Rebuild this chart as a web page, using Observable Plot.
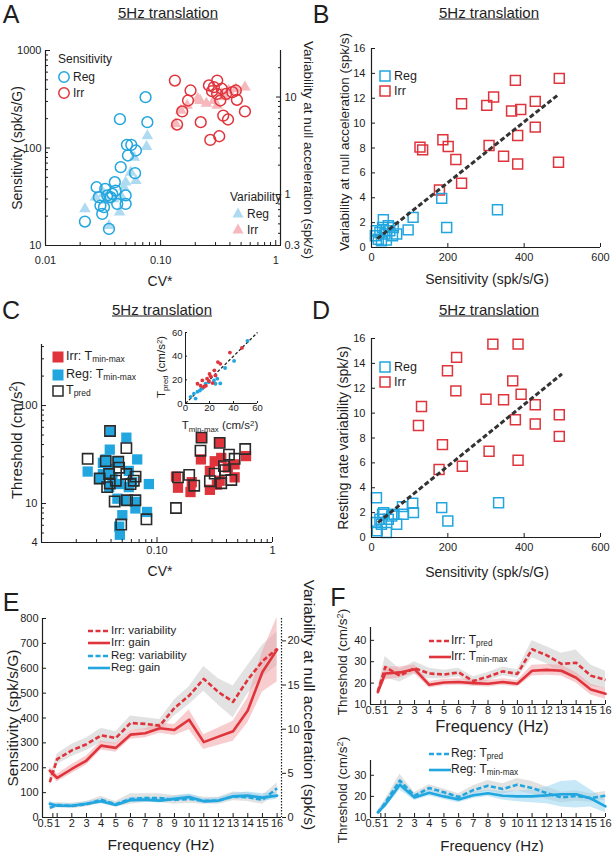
<!DOCTYPE html>
<html><head><meta charset="utf-8">
<script src="https://cdn.jsdelivr.net/npm/d3@7"></script>
<script src="https://cdn.jsdelivr.net/npm/@observablehq/plot@0.6"></script>
<style>
body{margin:0;background:#fff;}
#root{position:relative;width:612px;height:852px;overflow:hidden;font-family:"Liberation Sans",Arial,sans-serif;color:#1e1e1e;}
#root > svg{position:absolute;overflow:visible;}
.t{position:absolute;white-space:nowrap;line-height:1;}
.t svg{display:block;overflow:visible;}
sub{font-size:0.68em;vertical-align:-0.3em;line-height:0;}
sup{font-size:0.68em;vertical-align:0.45em;line-height:0;}
</style></head><body><div id="root"></div>
<script>
// ---------------- DATA ----------------
// Panel A: [CV*, sensitivity spk/s/G] and [CV*, variability spk/s]
const A_regSens = [[0.022,17.6],[0.0356,14.8],[0.0311,21.1],[0.0322,24.7],[0.0278,39.6],[0.0291,31.3],[0.0344,32.6],[0.0406,36.6],[0.040,44.6],[0.042,26.7],[0.0497,32.6],[0.0497,26.7],[0.045,63.6],[0.052,83.8],[0.051,107.7],[0.0556,107.7],[0.061,94.3],[0.060,55.2],[0.0443,197.6],[0.074,332],[0.0767,184],[0.0368,31.3],[0.033,38],[0.038,33.8],[0.030,25.7]];
const A_irrSens = [[0.133,492],[0.182,389],[0.173,307],[0.154,237],[0.139,174],[0.223,184],[0.263,438],[0.31,492],[0.28,383],[0.34,405],[0.33,307],[0.37,359],[0.42,374],[0.45,389],[0.46,312],[0.54,237],[0.35,215],[0.385,196],[0.27,121],[0.323,132],[0.31,359],[0.29,421]];
const A_regVar = [[0.022,0.71],[0.0272,0.94],[0.0356,0.48],[0.044,0.66],[0.0497,1.34],[0.059,2.4],[0.061,1.39],[0.0767,4.0],[0.0755,3.1],[0.039,0.9],[0.046,0.94],[0.034,0.87],[0.055,1.69],[0.032,1.02],[0.048,1.19]];
const A_irrVar = [[0.135,5.3],[0.15,7.3],[0.22,9.2],[0.25,8.6],[0.29,9.2],[0.34,10.8],[0.39,11.7],[0.45,12.1],[0.54,12.6],[0.17,8.2],[0.31,8.2],[0.36,10.0],[0.21,9.6]];
const A_xDomain = [0.01, 1.1], A_yDomain = [10, 1000], A_rightFactor = 1000/30;
const A_xTicks = [0.01, 0.1, 1], A_yTicks = [10, 100, 1000], A_rTicks = [0.3, 1, 10];
const A_xMinor = [0.02,0.03,0.04,0.05,0.06,0.07,0.08,0.09,0.2,0.3,0.4,0.5,0.6,0.7,0.8,0.9];
const A_yMinor = [20,30,40,50,60,70,80,90,200,300,400,500,600,700,800,900];
const A_rMinor = [0.4,0.5,0.6,0.7,0.8,0.9,2,3,4,5,6,7,8,9,20];

// Panel B: [sensitivity, variability at null acceleration]
const B_reg = [[184,3.95],[330,3.04],[197,1.61],[109,2.42],[96,1.42],[31,2.23],[66,1.08],[13,1.34],[18,0.67],[39,0.59],[48,1.34],[29,1.61],[55,0.94],[10,0.94],[35,1.08],[44,1.75],[57,1.61],[22,1.21],[26,0.54]];
const B_irr = [[127,8.07],[134,7.85],[187,8.66],[201,8.12],[221,7.07],[236,11.56],[236,5.16],[178,4.62],[302,11.43],[320,12.1],[308,8.2],[346,7.34],[367,10.97],[391,11.1],[377,13.44],[383,9.0],[383,6.72],[429,11.75],[429,9.68],[490,6.86],[492,13.6]];
const B_fit = [[15,0.7],[490,12.3]];

// Panel C: [CV*, threshold cm/s^2]
const C_regTmm = [[0.0398,54],[0.0543,47],[0.039,35.5],[0.0674,28.2],[0.0251,21.2],[0.036,28.2],[0.0454,27],[0.038,22.4],[0.0316,17.8],[0.0411,18.5],[0.057,21.5],[0.047,15.8],[0.0385,14.7],[0.061,16.5],[0.085,15.8],[0.0454,11.2],[0.0518,10.8],[0.065,10.4],[0.065,8.9],[0.0501,7.6],[0.082,8.2],[0.047,5.8],[0.0477,4.8],[0.034,26],[0.034,20],[0.057,14.7]];
const C_regTpred = [[0.0251,28.6],[0.0319,18],[0.036,27.1],[0.039,16],[0.0392,55],[0.0462,26.7],[0.0543,36.8],[0.0543,20],[0.0652,18.8],[0.059,15.8],[0.044,17.1],[0.055,10.8],[0.043,10.5],[0.065,10.8],[0.049,6.1],[0.081,6.9],[0.0385,20],[0.047,23.2],[0.037,14.7],[0.063,17.1]];
const C_irrTmm = [[0.243,47],[0.349,42],[0.24,28.2],[0.146,18.8],[0.152,14.5],[0.2,16.5],[0.195,13.1],[0.287,13.8],[0.349,17.1],[0.36,29.2],[0.47,25.1],[0.59,30.5],[0.47,18.5],[0.316,27],[0.41,23.3],[0.287,21.5],[0.33,15.6]];
const C_irrTpred = [[0.238,34.6],[0.19,19.6],[0.146,9.0],[0.287,16.9],[0.42,31.6],[0.58,36],[0.38,24.1],[0.39,21.9],[0.47,28.6],[0.36,16.1],[0.152,18.5],[0.21,15.2],[0.316,20.2],[0.44,17.4],[0.349,41.6],[0.243,47]];
const C_xDomain = [0.01, 1], C_yDomain = [4, 420];
const C_xTicks = [0.1, 1], C_yTicks = [4, 10, 100];
const C_xMinor = [0.02,0.03,0.04,0.05,0.06,0.07,0.08,0.09,0.2,0.3,0.4,0.5,0.6,0.7,0.8,0.9];
const C_yMinor = [5,6,7,8,9,20,30,40,50,60,70,80,90,200,300,400];
// inset: [T min-max, T pred]
const C_insetIrr = [[10,16.7],[14,19.5],[18,21],[21,23],[24,28],[17,15],[12.6,15],[19.5,19],[29,33.5],[25,23.7],[15.3,14],[22.6,17.3],[37,43],[47,47],[27,35],[20,25]];
const C_insetReg = [[4.2,5.6],[7,8.4],[12,11],[14,12.6],[23.7,19.5],[26.5,21],[40.5,36],[51.6,53],[16.7,16.7],[19.5,18],[25,16.7],[29,17],[8.4,4.2],[10,10],[33,30]];
const C_insetUnity = [[0,0],[60,60]];
const C_insetTicks = [0, 20, 40, 60];

// Panel D: [sensitivity, resting rate variability]
const D_reg = [[13,3.2],[333,2.8],[184,2.4],[200,1.33],[108,2.75],[110,2.0],[81,2.48],[83,1.87],[66,1.07],[32,2.0],[22,1.47],[44,1.47],[13,1.2],[15,0.53],[39,0.4],[29,1.87],[53,1.73],[26,1.07],[59,1.87]];
const D_irr = [[318,15.55],[384,15.55],[223,14.48],[199,13.41],[221,11.79],[131,10.53],[123,9.01],[370,12.59],[392,11.52],[300,11.12],[346,11.07],[377,9.47],[429,10.67],[429,9.12],[492,9.87],[492,8.13],[186,7.47],[177,5.47],[238,5.73],[308,6.93],[384,6.21]];
const D_fit = [[17,1.2],[499,13.15]];
const BD_xTicks = [0, 200, 400, 600], BD_yTicks = [0,2,4,6,8,10,12,14,16];

// Panel E: frequency sweep
const E_freq = [0.5,1,2,3,4,5,6,7,8,9,10,11,12,13,14,15,16];
const E_irrGain   = [188,159,195,229,289,280,333,339,359,352,393,303,325,347,430,585,675];
const E_irrGainSE = [15,15,18,18,18,18,18,18,20,22,40,30,35,40,50,80,130];
const E_irrVar    = [4.0,6.6,7.6,8.3,9.3,9.0,10.7,10.6,10.4,12.4,13.8,15.7,14.2,13.1,15.6,17.7,19.1];
const E_irrVarSE  = [0.5,0.6,0.7,0.7,0.8,0.7,0.8,0.7,0.7,0.9,1.0,1.4,1.5,1.8,1.6,1.8,1.9];
const E_regGain   = [55,47,47,55,65,50,70,72,68,75,82,65,68,85,88,80,88];
const E_regGainSE = [10,8,8,8,10,8,10,10,10,10,12,10,10,12,15,15,15];
const E_regVar    = [1.1,1.4,1.3,1.5,2.0,1.5,2.1,2.2,2.2,2.0,2.1,1.9,1.9,2.4,2.3,2.0,3.3];
const E_regVarSE  = [0.3,0.3,0.3,0.3,0.4,0.3,0.6,0.5,0.5,0.5,0.5,0.4,0.4,0.5,0.5,0.5,0.6];
const E_xDomain = [0, 16.3], E_yDomain = [0, 800], E_rightFactor = 35.5;
const E_yTicks = [0,100,200,300,400,500,600,700,800], E_rTicks = [0,5,10,15,20];
const freqTicks = [1,2,3,4,5,6,7,8,9,10,11,12,13,14,15,16], freqFirst = [0.5];

// Panel F: thresholds vs frequency
const F_irrTmm     = [15.8,24.5,25,26.5,19.2,20.3,20.5,20,19.7,20.5,19.7,25.8,26.2,25.8,22.5,17,15];
const F_irrTmmSE   = [1.5,3,2.5,2,1.5,1.5,1.5,1.5,1.5,1.5,1.5,2.5,2.5,2.5,2.5,2.5,2.5];
const F_irrTpred   = [16,27.5,23.5,27,24.5,24,25,21,23,25.5,24.3,35.8,33,29,29.5,23.5,21.5];
const F_irrTpredSE = [1.5,5,3,3,2.5,2,2,2,2,2,2,4,4,5,6,5,4];
const F_regTmm     = [12.5,16,25.5,19.5,21.7,20,18.5,20.5,21.5,20.3,20,20,20.5,21,21,19,15.3];
const F_regTmmSE   = [1,1.5,2.5,1.5,1.5,1.5,1.5,1.5,1.5,2,2.5,3,4,6,6.5,4,3];
const F_regTpred   = [12,17,27.5,20.3,24,22,19.7,23,25,23.5,25.5,24,21.5,19.5,20.2,19.2,20.3];
const F_regTpredSE = [1,1.5,3,1.5,1.5,1.5,1.5,2,2.5,2.5,3,3,3,2.5,2.5,2,2];
const F_xDomain = [0, 16], F_upDomain = [10, 46], F_loDomain = [10, 37];
const F_upTicks = [10,20,30,40], F_loTicks = [10,20,30];

// ---------------- STYLE ----------------
const red = "#e0343c", blue = "#22a6df", ltBlue = "#aedbf1", pink = "#f6b8bc", ink = "#1e1e1e";
const FONT = "Liberation Sans, Arial, Helvetica, sans-serif";
const sty = {fontFamily: FONT, fontSize: "11px", color: ink, background: "transparent", overflow: "visible"};
const root = document.getElementById("root");
const X = d => d[0], Y = d => d[1];

function mount(svg, left, top){ svg.style.left = left + "px"; svg.style.top = top + "px"; root.appendChild(svg); }
function T(html, x, y, o = {}){
  const d = document.createElement("div"); d.className = "t"; d.innerHTML = html;
  const ax = o.anchor === "start" ? "0" : o.anchor === "end" ? "-100%" : "-50%";
  d.style.left = x + "px"; d.style.top = y + "px"; d.style.fontSize = (o.size || 14) + "px";
  if (o.deco) d.style.textDecoration = o.deco;
  d.style.transform = `translate(${ax},-50%)` + (o.rot ? ` rotate(${o.rot}deg)` : "");
  root.appendChild(d);
}
function sw(inner, cx, cy, w, h){
  const d = document.createElement("div"); d.className = "t";
  d.style.left = (cx - w/2) + "px"; d.style.top = (cy - h/2) + "px";
  d.innerHTML = `<svg width="${w}" height="${h}">${inner}</svg>`;
  root.appendChild(d);
}
const circ = c => `<circle cx="6" cy="6" r="5.2" fill="none" stroke="${c}" stroke-width="1.5"/>`;
const tri = c => `<path d="M6,0.5 L11.5,10.5 L0.5,10.5Z" fill="${c}"/>`;
const sqOpen = c => `<rect x="1" y="1" width="10" height="10" fill="none" stroke="${c}" stroke-width="1.5"/>`;
const sqFill = c => `<rect x="0.5" y="0.5" width="11" height="11" fill="${c}"/>`;
const lineSw = (c, dash) => `<line x1="0" y1="3" x2="22" y2="3" stroke="${c}" stroke-width="2.6" ${dash ? 'stroke-dasharray="5,2.5"' : ''}/>`;

function majY(ticks, fmt, size, pad, extra = {}){ return Plot.axisY({ticks, tickFormat: fmt, tickSize: size, tickPadding: pad, label: null, stroke: ink, fill: ink, ...extra}); }
function majX(ticks, fmt, size, pad, extra = {}){ return Plot.axisX({ticks, tickFormat: fmt, tickSize: size, tickPadding: pad, label: null, stroke: ink, fill: ink, ...extra}); }
function minY(ticks, size, extra = {}){ return Plot.axisY({ticks, tickSize: size, fill: "none", label: null, stroke: ink, ...extra}); }
function minX(ticks, size, extra = {}){ return Plot.axisX({ticks, tickSize: size, fill: "none", label: null, stroke: ink, ...extra}); }
const dashed = {strokeDasharray: "5,2.5", strokeLinecap: "butt"};

// ---------------- PANEL A ----------------
mount(Plot.plot({
  width: 306, height: 270, marginLeft: 45, marginRight: 26, marginTop: 20, marginBottom: 55, style: sty,
  x: {type: "log", domain: A_xDomain}, y: {type: "log", domain: A_yDomain},
  marks: [
    Plot.dot(A_regVar, {x: X, y: d => d[1] * A_rightFactor, symbol: "triangle", r: 4.3, fill: ltBlue}),
    Plot.dot(A_irrVar, {x: X, y: d => d[1] * A_rightFactor, symbol: "triangle", r: 4.3, fill: pink}),
    Plot.dot(A_regSens, {x: X, y: Y, r: 5.4, stroke: blue, strokeWidth: 1.5}),
    Plot.dot(A_irrSens, {x: X, y: Y, r: 5.4, stroke: red, strokeWidth: 1.5}),
    Plot.ruleX([A_xDomain[0]], {stroke: ink, strokeWidth: 1.2}),
    Plot.ruleX([A_xDomain[1]], {stroke: ink, strokeWidth: 1.2}),
    Plot.ruleY([A_yDomain[0]], {stroke: ink, strokeWidth: 1.2}),
    majY(A_yTicks, d => String(d), -5, 9),
    minY(A_yMinor, -3),
    majX(A_xTicks, d => d === 1 ? "1" : d.toFixed(2), -5, 16),
    minX(A_xMinor, -3),
    majY(A_rTicks.map(v => v * A_rightFactor), d => String(+(d / A_rightFactor).toPrecision(2)), -5, 9, {anchor: "right"}),
    minY(A_rMinor.map(v => v * A_rightFactor), -3, {anchor: "right"})
  ]
}), 0, 30);

// ---------------- PANEL B / D ----------------
function scatterBD(reg, irr, fit){
  return Plot.plot({
    width: 306, height: 270, marginLeft: 65, marginRight: 12, marginTop: 18, marginBottom: 53, style: sty,
    x: {domain: [0, 600]}, y: {domain: [0, 16]},
    marks: [
      Plot.dot(irr, {x: X, y: Y, symbol: "square", r: 5.6, stroke: red, strokeWidth: 1.5}),
      Plot.dot(reg, {x: X, y: Y, symbol: "square", r: 5.6, stroke: blue, strokeWidth: 1.5}),
      Plot.line(fit, {x: X, y: Y, stroke: "#333", strokeWidth: 3, strokeDasharray: "5,2.5", strokeLinecap: "butt"}),
      Plot.ruleX([0], {stroke: ink, strokeWidth: 1.2}),
      Plot.ruleY([0], {stroke: ink, strokeWidth: 1.2}),
      majY(BD_yTicks, d => String(d), -4, 10),
      majX(BD_xTicks, d => String(d), -4, 10)
    ]
  });
}
mount(scatterBD(B_reg, B_irr, B_fit), 306, 30);

// ---------------- PANEL C ----------------
mount(Plot.plot({
  width: 306, height: 250, marginLeft: 41, marginRight: 34, marginTop: 24, marginBottom: 28, style: sty,
  x: {type: "log", domain: C_xDomain}, y: {type: "log", domain: C_yDomain},
  marks: [
    Plot.dot(C_regTmm, {x: X, y: Y, symbol: "square", r: 5.8, fill: blue}),
    Plot.dot(C_irrTmm, {x: X, y: Y, symbol: "square", r: 5.8, fill: red}),
    Plot.dot(C_regTpred, {x: X, y: Y, symbol: "square", r: 5.8, stroke: "#2a2a2a", strokeWidth: 1.6}),
    Plot.dot(C_irrTpred, {x: X, y: Y, symbol: "square", r: 5.8, stroke: "#2a2a2a", strokeWidth: 1.6}),
    Plot.ruleX([C_xDomain[0]], {stroke: ink, strokeWidth: 1.2}),
    Plot.ruleY([C_yDomain[0]], {stroke: ink, strokeWidth: 1.2}),
    majY(C_yTicks, d => String(d), -5, 9),
    minY(C_yMinor, -3),
    majX(C_xTicks, d => d === 1 ? "1" : d.toFixed(2), -5, 9),
    minX(C_xMinor, -3)
  ]
}), 0, 320);

// inset
mount(Plot.plot({
  width: 130, height: 115, marginLeft: 35, marginRight: 23, marginTop: 12, marginBottom: 32,
  style: {...sty, fontSize: "9.5px"},
  x: {domain: [0, 60]}, y: {domain: [0, 60]},
  marks: [
    Plot.line(C_insetUnity, {x: X, y: Y, stroke: "#222", strokeWidth: 1.3, strokeDasharray: "3,2", strokeLinecap: "butt"}),
    Plot.dot(C_insetReg, {x: X, y: Y, r: 1.9, fill: blue}),
    Plot.dot(C_insetIrr, {x: X, y: Y, r: 1.9, fill: red}),
    Plot.ruleX([0], {stroke: ink}),
    Plot.ruleY([0], {stroke: ink}),
    majY(C_insetTicks, d => String(d), -2, 5),
    majX(C_insetTicks, d => String(d), -2, 3)
  ]
}), 150, 320);

// ---------------- PANEL D ----------------
mount(scatterBD(D_reg, D_irr, D_fit), 306, 320);

// ---------------- PANEL E ----------------
const E_rows = E_freq.map((f, i) => ({
  f,
  ig: E_irrGain[i], igLo: E_irrGain[i] - E_irrGainSE[i], igHi: E_irrGain[i] + E_irrGainSE[i],
  iv: E_irrVar[i] * E_rightFactor, ivLo: (E_irrVar[i] - E_irrVarSE[i]) * E_rightFactor, ivHi: (E_irrVar[i] + E_irrVarSE[i]) * E_rightFactor,
  rg: E_regGain[i], rgLo: E_regGain[i] - E_regGainSE[i], rgHi: E_regGain[i] + E_regGainSE[i],
  rv: E_regVar[i] * E_rightFactor, rvLo: (E_regVar[i] - E_regVarSE[i]) * E_rightFactor, rvHi: (E_regVar[i] + E_regVarSE[i]) * E_rightFactor
}));
mount(Plot.plot({
  width: 330, height: 252, marginLeft: 42, marginRight: 49, marginTop: 18, marginBottom: 35, style: sty,
  x: {domain: E_xDomain}, y: {domain: E_yDomain},
  marks: [
    Plot.areaY(E_rows, {x: "f", y1: "ivLo", y2: "ivHi", fill: "#cfcfcf", fillOpacity: 0.6}),
    Plot.areaY(E_rows, {x: "f", y1: "rvLo", y2: "rvHi", fill: "#cfcfcf", fillOpacity: 0.6}),
    Plot.areaY(E_rows, {x: "f", y1: "igLo", y2: "igHi", fill: "#f19ca0", fillOpacity: 0.5}),
    Plot.areaY(E_rows, {x: "f", y1: "rgLo", y2: "rgHi", fill: "#8fd2f0", fillOpacity: 0.55}),
    Plot.lineY(E_rows, {x: "f", y: "rv", stroke: blue, strokeWidth: 2.6, ...dashed}),
    Plot.lineY(E_rows, {x: "f", y: "rg", stroke: blue, strokeWidth: 2.6}),
    Plot.lineY(E_rows, {x: "f", y: "iv", stroke: red, strokeWidth: 2.6, ...dashed}),
    Plot.lineY(E_rows, {x: "f", y: "ig", stroke: red, strokeWidth: 2.6}),
    Plot.ruleX([E_xDomain[0]], {stroke: ink, strokeWidth: 1.2}),
    Plot.ruleY([E_yDomain[0]], {stroke: ink, strokeWidth: 1.2}),
    Plot.ruleX([E_xDomain[1]], {stroke: ink, strokeWidth: 1.2, strokeDasharray: "1.5,1.5"}),
    majY(E_yTicks, d => String(d), -4, 8),
    majX(freqTicks, d => String(d), -4, 6),
    majX(freqFirst, () => "0.5", -4, 6, {textAnchor: "end", dx: 3}),
    majY(E_rTicks.map(v => v * E_rightFactor), d => String(Math.round(d / E_rightFactor)), 4, 2, {anchor: "right"})
  ]
}), 0, 600);

// ---------------- PANEL F ----------------
function rowsF(a, aSE, b, bSE){
  return E_freq.map((f, i) => ({f, s: a[i], sLo: a[i] - aSE[i], sHi: a[i] + aSE[i], d: b[i], dLo: b[i] - bSE[i], dHi: b[i] + bSE[i]}));
}
function panelF(rows, col, band, domain, ticks, mt, mb, h){
  return Plot.plot({
    width: 282, height: h, marginLeft: 40, marginRight: 7, marginTop: mt, marginBottom: mb, style: sty,
    x: {domain: F_xDomain}, y: {domain},
    marks: [
      Plot.areaY(rows, {x: "f", y1: "dLo", y2: "dHi", fill: "#cfcfcf", fillOpacity: 0.6}),
      Plot.areaY(rows, {x: "f", y1: "sLo", y2: "sHi", fill: band, fillOpacity: 0.5}),
      Plot.lineY(rows, {x: "f", y: "d", stroke: col, strokeWidth: 2.6, ...dashed}),
      Plot.lineY(rows, {x: "f", y: "s", stroke: col, strokeWidth: 2.6}),
      Plot.ruleX([F_xDomain[0]], {stroke: ink, strokeWidth: 1.2}),
      Plot.ruleY([domain[0]], {stroke: ink, strokeWidth: 1.2}),
      majY(ticks, d => String(d), -4, 8),
      majX(freqTicks, d => String(d), -4, 6),
      majX(freqFirst, () => "0.5", -4, 6, {textAnchor: "end", dx: 3})
    ]
  });
}
mount(panelF(rowsF(F_irrTmm, F_irrTmmSE, F_irrTpred, F_irrTpredSE), red, "#f19ca0", F_upDomain, F_upTicks, 12, 21, 110), 330, 615);
mount(panelF(rowsF(F_regTmm, F_regTmmSE, F_regTpred, F_regTpredSE), blue, "#8fd2f0", F_loDomain, F_loTicks, 15, 35, 107), 330, 745);

// ---------------- TEXT: letters, titles, axis labels ----------------
const title = "5Hz translation";
T("A", 11, 14, {size: 25}); T(title, 168, 12, {size: 15, deco: "underline"});
T("B", 321, 14, {size: 25}); T(title, 489, 12, {size: 15, deco: "underline"});
T("C", 11, 310, {size: 25}); T(title, 162, 309, {size: 15, deco: "underline"});
T("D", 321, 310, {size: 25}); T(title, 489, 309, {size: 15, deco: "underline"});
T("E", 11, 602, {size: 25});
T("F", 338, 597, {size: 25});

T("Sensitivity (spk/s/G)", 17, 148, {size: 14, rot: -90});
T("Variability at null acceleration (spk/s)", 308, 150, {size: 13.5, rot: 90});
T("CV*", 160, 281, {size: 14});
T("Variability at null acceleration (spk/s)", 345, 142, {size: 13.5, rot: -90});
T("Sensitivity (spk/s/G)", 487, 279, {size: 14});

T("Threshold (cm/s<sup>2</sup>)", 16, 440, {size: 15, rot: -90});
T("CV*", 160, 571, {size: 14});
T("T<sub>pred</sub> (cm/s<sup>2</sup>)", 162, 367, {size: 11.5, rot: -90});
T("T<sub>min-max</sub> (cm/s<sup>2</sup>)", 220, 426, {size: 11.5});
T("Resting rate variability (spk/s)", 343, 438, {size: 14, rot: -90});
T("Sensitivity (spk/s/G)", 487, 572, {size: 14});

T("Sensitivity (spk/s/G)", 13, 718, {size: 15.5, rot: -90});
T("Variability at null acceleration (spk/s)", 309, 705, {size: 15.5, rot: 90});
T("Frequency (Hz)", 161, 845, {size: 15.5});
T("Threshold (cm/s<sup>2</sup>)", 343, 662, {size: 13.5, rot: -90});
T("Frequency (Hz)", 492, 726, {size: 16.5});
T("Threshold (cm/s<sup>2</sup>)", 343, 790, {size: 13.5, rot: -90});
T("Frequency (Hz)", 492, 845, {size: 15});

// ---------------- LEGENDS ----------------
T("Sensitivity", 58, 59, {size: 12, anchor: "start"});
sw(circ(blue), 64, 77, 12, 12); T("Reg", 73, 77, {size: 12, anchor: "start"});
sw(circ(red), 64, 93, 12, 12); T("Irr", 73, 93, {size: 12, anchor: "start"});
T("Variability", 230, 197, {size: 12, anchor: "start"});
sw(tri(ltBlue), 238, 213, 12, 12); T("Reg", 247, 214, {size: 12, anchor: "start"});
sw(tri(pink), 238, 229, 12, 12); T("Irr", 247, 230, {size: 12, anchor: "start"});

sw(sqOpen(blue), 385, 76, 12, 12); T("Reg", 394, 76, {size: 12.5, anchor: "start"});
sw(sqOpen(red), 385, 91, 12, 12); T("Irr", 394, 91, {size: 12.5, anchor: "start"});
sw(sqOpen(blue), 385, 367, 12, 12); T("Reg", 394, 367, {size: 12.5, anchor: "start"});
sw(sqOpen(red), 385, 382, 12, 12); T("Irr", 394, 382, {size: 12.5, anchor: "start"});

sw(sqFill(red), 58, 357, 12, 12); T("Irr: T<sub>min-max</sub>", 66, 356, {size: 12.5, anchor: "start"});
sw(sqFill(blue), 58, 375, 12, 12); T("Reg: T<sub>min-max</sub>", 66, 374, {size: 12.5, anchor: "start"});
sw(sqOpen("#2a2a2a"), 58, 391, 12, 12); T("T<sub>pred</sub>", 66, 390, {size: 12.5, anchor: "start"});

sw(lineSw(red, true), 99, 631, 22, 6); T("Irr: variability", 111, 631, {size: 11.5, anchor: "start"});
sw(lineSw(red, false), 99, 643, 22, 6); T("Irr: gain", 111, 643, {size: 11.5, anchor: "start"});
sw(lineSw(blue, true), 99, 656, 22, 6); T("Reg: variability", 111, 656, {size: 11.5, anchor: "start"});
sw(lineSw(blue, false), 99, 668, 22, 6); T("Reg: gain", 111, 668, {size: 11.5, anchor: "start"});

sw(lineSw(red, true), 439, 641, 20, 6); T("Irr: T<sub>pred</sub>", 451, 640, {size: 12, anchor: "start"});
sw(lineSw(red, false), 439, 657, 20, 6); T("Irr: T<sub>min-max</sub>", 451, 656, {size: 12, anchor: "start"});
sw(lineSw(blue, true), 439, 754, 20, 6); T("Reg: T<sub>pred</sub>", 451, 753, {size: 12, anchor: "start"});
sw(lineSw(blue, false), 439, 770, 20, 6); T("Reg: T<sub>min-max</sub>", 451, 769, {size: 12, anchor: "start"});
</script></body></html>
